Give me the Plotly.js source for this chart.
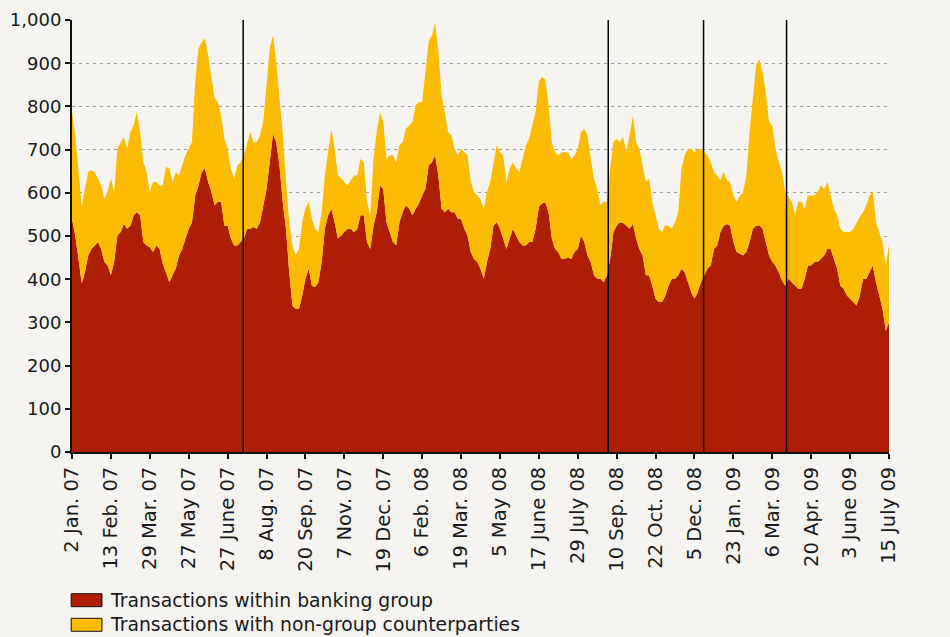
<!DOCTYPE html>
<html>
<head>
<meta charset="utf-8">
<script src="https://cdn.plot.ly/plotly-3.0.1.min.js"></script>
<style>
  html, body { margin: 0; padding: 0; background: #f5f4f1; }
  #chart { width: 950px; height: 637px; }
</style>
</head>
<body>
<div id="chart"></div>
<script>
// Business-day index (0 = 2 Jan. 07, 630 = 15 July 09), sampled every 2.5 days
const dayIndex = [
  0,2.5,5,7.5,10,12.5,15,17.5,20,22.5,
  25,27.5,30,32.5,35,37.5,40,42.5,45,47.5,
  50,52.5,55,57.5,60,62.5,65,67.5,70,72.5,
  75,77.5,80,82.5,85,87.5,90,92.5,95,97.5,
  100,102.5,105,107.5,110,112.5,115,117.5,120,122.5,
  125,127.5,130,132.5,135,137.5,140,142.5,145,147.5,
  150,152.5,155,157.5,160,162.5,165,167.5,170,172.5,
  175,177.5,180,182.5,185,187.5,190,192.5,195,197.5,
  200,202.5,205,207.5,210,212.5,215,217.5,220,222.5,
  225,227.5,230,232.5,235,237.5,240,242.5,245,247.5,
  250,252.5,255,257.5,260,262.5,265,267.5,270,272.5,
  275,277.5,280,282.5,285,287.5,290,292.5,295,297.5,
  300,302.5,305,307.5,310,312.5,315,317.5,320,322.5,
  325,327.5,330,332.5,335,337.5,340,342.5,345,347.5,
  350,352.5,355,357.5,360,362.5,365,367.5,370,372.5,
  375,377.5,380,382.5,385,387.5,390,392.5,395,397.5,
  400,402.5,405,407.5,410,412.5,415,417.5,420,422.5,
  425,427.5,430,432.5,435,437.5,440,442.5,445,447.5,
  450,452.5,455,457.5,460,462.5,465,467.5,470,472.5,
  475,477.5,480,482.5,485,487.5,490,492.5,495,497.5,
  500,502.5,505,507.5,510,512.5,515,517.5,520,522.5,
  525,527.5,530,532.5,535,537.5,540,542.5,545,547.5,
  550,552.5,555,557.5,560,562.5,565,567.5,570,572.5,
  575,577.5,580,582.5,585,587.5,590,592.5,595,597.5,
  600,602.5,605,607.5,610,612.5,615,617.5,620,622.5,
  625,627.5,630];

// Transactions within banking group (EUR bn)
const withinGroup = [
  540,501,447,390,416,455,470,478,486,470,
  440,432,409,440,501,509,528,517,524,548,
  555,548,486,478,474,463,478,470,436,416,
  393,409,424,455,470,494,517,532,594,617,
  648,656,625,602,571,579,579,524,524,494,
  478,478,486,494,517,517,521,517,532,571,
  609,671,737,717,663,579,517,416,339,331,
  331,362,401,424,385,382,393,440,517,548,
  563,532,494,501,509,517,517,509,517,548,
  548,486,470,524,555,617,609,532,509,486,
  478,532,555,571,563,548,563,575,594,609,
  663,671,687,640,563,555,563,555,555,540,
  540,517,501,463,447,440,424,401,440,470,
  524,532,517,494,470,494,517,501,486,478,
  478,486,486,517,567,575,578,555,494,470,
  463,447,447,451,447,463,470,501,486,455,
  440,409,401,401,393,409,447,509,524,532,
  530,524,517,528,494,470,455,409,409,385,
  355,347,347,362,385,401,401,409,424,416,
  393,370,355,370,393,409,424,432,470,478,
  509,524,528,524,486,463,459,455,463,486,
  517,524,525,517,486,455,440,432,416,397,
  385,401,393,385,378,378,401,432,432,440,
  440,447,455,470,470,447,424,385,378,362,
  355,347,339,362,401,401,416,432,393,362,
  331,280,300];

// Total of both series = top edge of the stacked area
const totalTransactions = [
  787,733,651,568,610,648,652,648,633,617,
  586,605,633,602,702,717,729,702,741,756,
  787,741,671,648,602,625,625,617,617,660,
  656,625,648,640,663,687,702,717,856,934,
  949,957,918,864,818,810,779,725,702,656,
  633,663,671,687,717,741,717,717,733,764,
  849,934,964,903,818,741,625,532,478,455,
  470,532,563,579,540,517,509,555,640,694,
  748,702,640,633,625,617,629,640,640,679,
  671,579,548,679,741,787,764,679,687,687,
  671,710,717,748,756,764,802,810,810,876,
  949,964,995,926,826,787,741,733,702,687,
  702,694,687,625,602,594,585,563,602,625,
  671,710,694,687,625,656,671,656,648,679,
  710,725,756,787,858,868,862,802,717,694,
  687,694,694,694,679,687,702,741,748,733,
  679,633,609,571,579,579,656,717,725,717,
  729,694,733,779,717,702,663,625,633,579,
  548,517,509,525,524,517,532,555,656,687,
  702,702,694,702,702,694,687,671,648,640,
  629,648,629,625,594,579,594,602,640,741,
  818,895,910,880,833,764,756,702,671,648,
  602,590,579,551,579,579,563,594,594,594,
  602,617,609,625,594,563,548,517,509,509,
  509,517,532,544,555,571,594,602,532,509,
  486,430,480];

const tickIdx = [0,30,60,90,120,150,180,210,240,270,300,330,360,390,420,450,480,510,540,570,600,630];
const tickLabels = ["2 Jan. 07","13 Feb. 07","29 Mar. 07","27 May 07","27 June 07","8 Aug. 07",
  "20 Sep. 07","7 Nov. 07","19 Dec. 07","6 Feb. 08","19 Mar. 08","5 May 08","17 June 08",
  "29 July 08","10 Sep. 08","22 Oct. 08","5 Dec. 08","23 Jan. 09","6 Mar. 09","20 Apr. 09",
  "3 June 09","15 July 09"];

// Event markers (business-day index)
const eventIdx = [132, 413.5, 487, 551];

const seriesNames = ["Transactions within banking group", "Transactions with non-group counterparties"];
const seriesColors = ["#ae1e05", "#fbbb00"];

const traces = [
  { x: dayIndex, y: withinGroup, type: 'scatter', mode: 'lines', name: seriesNames[0],
    fill: 'tozeroy', fillcolor: seriesColors[0], line: { width: 0, color: seriesColors[0] } },
  { x: dayIndex, y: totalTransactions, type: 'scatter', mode: 'lines', name: seriesNames[1],
    fill: 'tonexty', fillcolor: seriesColors[1], line: { width: 0, color: seriesColors[1] } }
];

const axisCommon = {
  range: [0, 1000], dtick: 100, tickformat: ',', zeroline: false,
  showline: true, linecolor: '#111', linewidth: 2,
  ticks: 'outside', ticklen: 5, tickwidth: 2, tickcolor: '#111',
  tickfont: { size: 18 }
};

const shapes = eventIdx.map(v => ({
  type: 'line', xref: 'x', yref: 'y', x0: v, x1: v, y0: 0, y1: 1000,
  line: { color: '#000', width: 1.5 }, layer: 'above'
}));

// Manual legend
const legendRows = [-0.343, -0.400];
legendRows.forEach((yc, k) => {
  shapes.push({ type: 'rect', xref: 'paper', yref: 'paper',
    x0: -0.001, x1: 0.0367, y0: yc - 0.015, y1: yc + 0.015,
    fillcolor: seriesColors[k], line: { color: '#111', width: 1 } });
});
const annotations = legendRows.map((yc, k) => ({
  xref: 'paper', yref: 'paper', x: 0.0445, y: yc, xanchor: 'left', yanchor: 'middle',
  text: seriesNames[k], showarrow: false, font: { size: 18.8, color: '#1a1a1a' }
}));

const layout = {
  width: 950, height: 637,
  margin: { l: 72, r: 61, t: 20, b: 185 },
  paper_bgcolor: '#f5f4f1', plot_bgcolor: '#f5f4f1',
  font: { family: 'DejaVu Sans, Verdana, sans-serif', size: 18, color: '#1a1a1a' },
  showlegend: false,
  xaxis: {
    range: [0, 630], tickmode: 'array', tickvals: tickIdx, ticktext: tickLabels,
    tickangle: -90, showgrid: false, zeroline: false, tickfont: { size: 19.5 },
    showline: true, linecolor: '#111', linewidth: 2,
    ticks: 'outside', ticklen: 5, tickwidth: 2, tickcolor: '#111'
  },
  yaxis: Object.assign({}, axisCommon, {
    showgrid: true, gridcolor: '#9c9c9c', gridwidth: 1, griddash: '3px,4px'
  }),
  yaxis2: Object.assign({}, axisCommon, {
    overlaying: 'y', side: 'right', showgrid: false
  }),
  shapes: shapes,
  annotations: annotations
};

Plotly.newPlot('chart', traces, layout, { displayModeBar: false, staticPlot: true });
</script>
</body>
</html>
